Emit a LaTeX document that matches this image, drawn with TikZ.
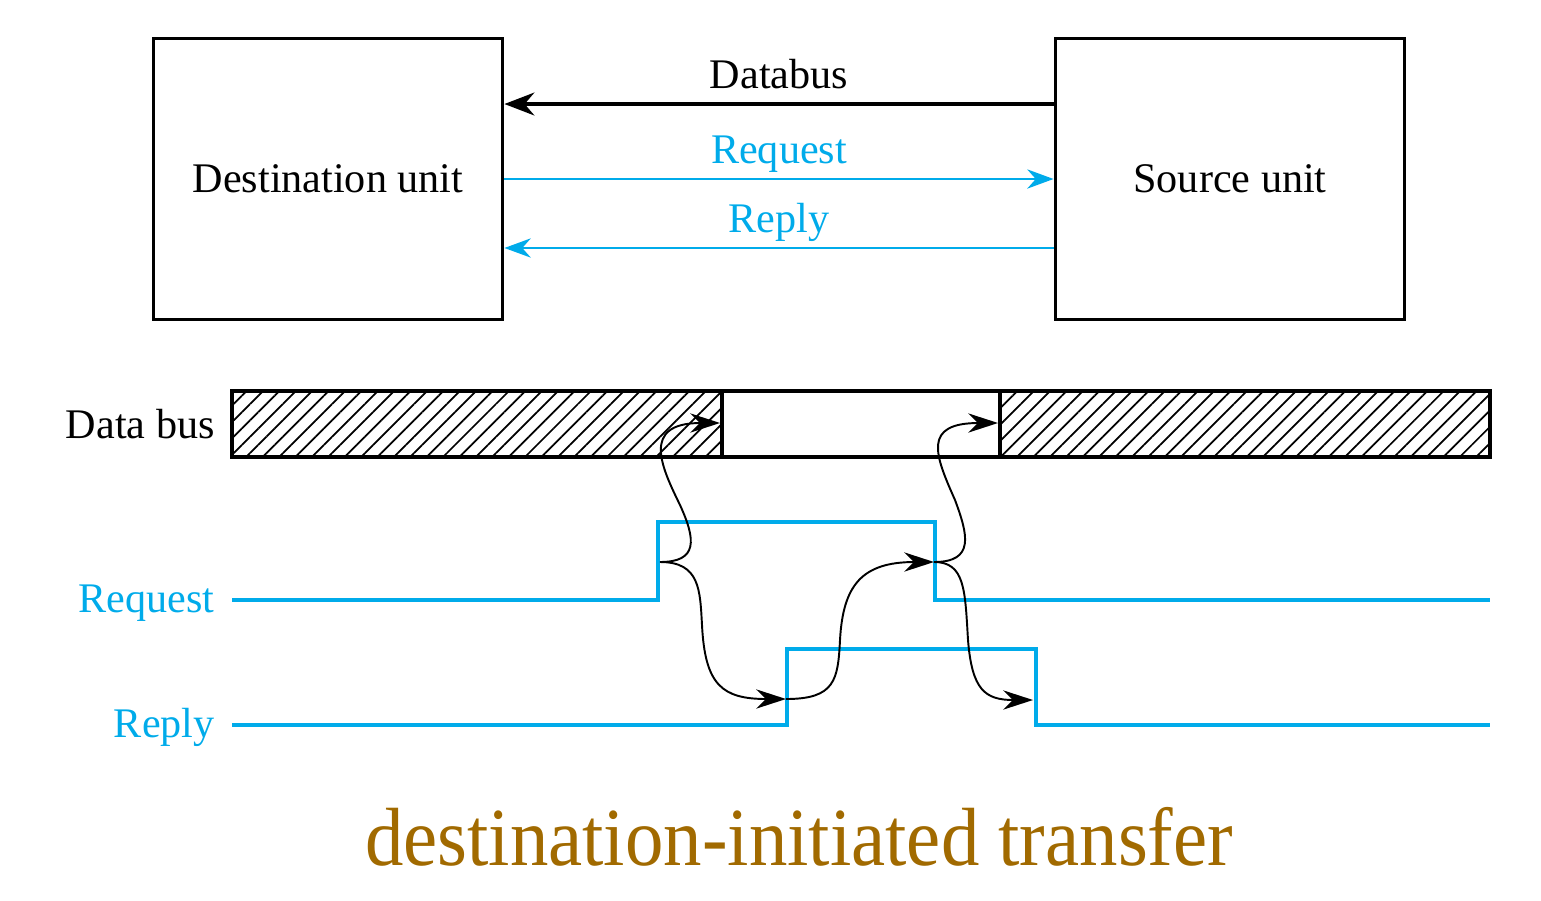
\documentclass[tikz,border=0pt]{standalone}
\usepackage{fontspec}
\setmainfont{Liberation Serif}
\usepackage{tikz}
\usetikzlibrary{arrows.meta,positioning,calc,patterns.meta}
\definecolor{sigblue}{RGB}{0,171,234}
\definecolor{titlegold}{RGB}{161,106,0}
\tikzset{
  unitbox/.style={draw, line width=1.7pt, minimum width=7cm, minimum height=5.64cm,
    align=center, font=\fontsize{24}{28}\selectfont},
  buslink/.style={-{Stealth[length=17pt,width=13pt]}, line width=2pt},
  hslink/.style={-{Stealth[length=15pt,width=11pt]}, line width=1.1pt, draw=sigblue},
  linklabel/.style={midway, anchor=base, yshift=9pt, font=\fontsize{24}{28}\selectfont},
  wave/.style={line width=2.3pt, draw=sigblue},
  cause/.style={-{Stealth[length=17pt,width=11pt]}, line width=1.1pt},
  hatched/.style={pattern={Lines[angle=45,distance=6.6pt,line width=1pt]}},
  siglabel/.style={anchor=base east, inner sep=0pt, font=\fontsize{24}{28}\selectfont}
}

\begin{document}
\begin{tikzpicture}[x=0.02cm, y=-0.02cm]
\useasboundingbox (0,0) rectangle (1541,900);

\node[unitbox] (dest) at (328,179) {Destination unit};
\node[unitbox] (src) at (1230,179) {Source unit};

\draw[buslink] ([yshift=1.5cm]src.west) -- node[linklabel] {Databus} ([yshift=1.5cm]dest.east);
\draw[hslink] (dest.east) -- node[linklabel, text=sigblue] {Request} (src.west);
\draw[hslink] ([yshift=-1.38cm]src.west) -- node[linklabel, text=sigblue] {Reply} ([yshift=-1.38cm]dest.east);

% timing diagram
\node[siglabel] (buslbl) at (215,438) {Data bus};
\node[siglabel, text=sigblue] (reqlbl) at (215,612) {Request};
\node[siglabel, text=sigblue] (replbl) at (215,737) {Reply};

\fill[hatched] (232,391) rectangle (722,457);
\fill[hatched] (1000,391) rectangle (1490,457);
\draw[line width=1.8pt] (232,391) rectangle (1490,457);
\draw[line width=1.8pt] (722,391) -- (722,457);
\draw[line width=1.8pt] (1000,391) -- (1000,457);

\draw[wave] (232,600) -- (658,600) -- (658,522) -- (935,522) -- (935,600) -- (1490,600);
\draw[wave] (232,725) -- (787,725) -- (787,649) -- (1036,649) -- (1036,725) -- (1490,725);

\coordinate (requp) at (660,562);
\coordinate (busvalid) at (720,423);
\coordinate (repup) at (786,699);
\coordinate (reqdown) at (934,562);
\coordinate (busfree) at (998,423);
\coordinate (repdown) at (1033,700);

\draw[cause] (requp) .. controls (698,562) and (696,540) .. (680,505)
  .. controls (662,468) and (640,423) .. (busvalid);
\draw[cause] (requp) .. controls (700,562) and (700,590) .. (702,625)
  .. controls (705,685) and (722,699) .. (repup);
\draw[cause] (repup) .. controls (835,699) and (838,680) .. (840,640)
  .. controls (843,585) and (862,562) .. (reqdown);
\draw[cause] (reqdown) .. controls (975,562) and (968,535) .. (955,500)
  .. controls (935,455) and (922,423) .. (busfree);
\draw[cause] (reqdown) .. controls (965,562) and (965,590) .. (968,640)
  .. controls (972,690) and (985,700) .. (repdown);

\node[anchor=base, text=titlegold, font=\fontsize{47}{52}\selectfont] (caption) at (799,865)
  {\scalebox{0.93}[1]{destination-initiated transfer}};
\end{tikzpicture}
\end{document}
